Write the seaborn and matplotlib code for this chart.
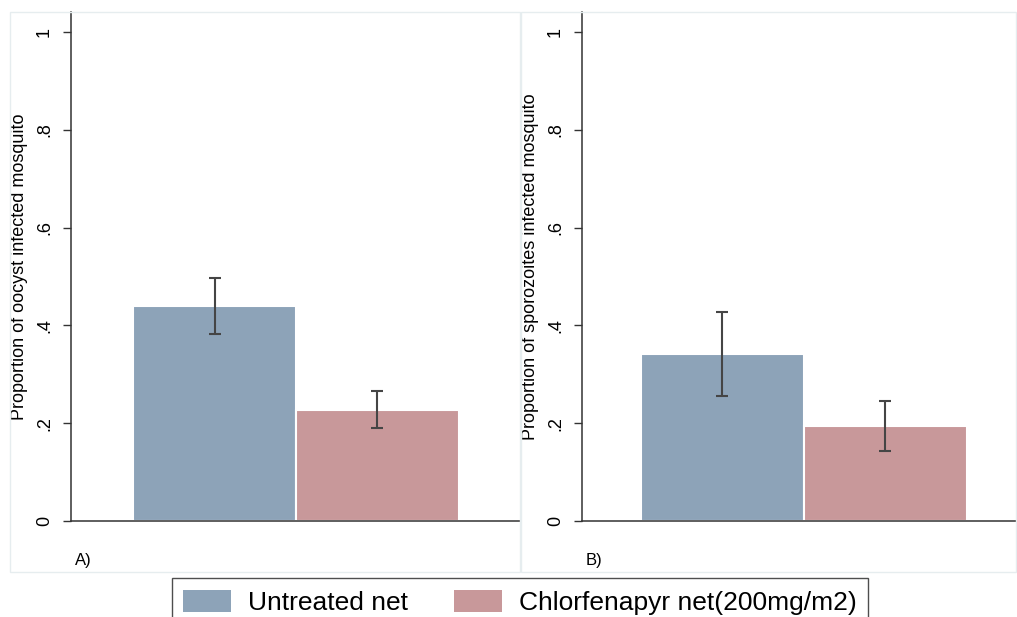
import matplotlib
matplotlib.use("Agg")
import matplotlib.pyplot as plt
import seaborn as sns
import pandas as pd
from matplotlib.patches import Rectangle, Patch

# ---- data ----
nets = ["Untreated net", "Chlorfenapyr net(200mg/m2)"]
oocyst_mean = [0.440, 0.227]
oocyst_low = [0.383, 0.190]
oocyst_high = [0.498, 0.265]
sporo_mean = [0.342, 0.195]
sporo_low = [0.255, 0.143]
sporo_high = [0.427, 0.245]
ytick_vals = [0, 0.2, 0.4, 0.6, 0.8, 1.0]
ytick_labels = ["0", ".2", ".4", ".6", ".8", "1"]
ylabels = ["Proportion of oocyst infected mosquito",
           "Proportion of sporozoites infected mosquito"]
panel_tags = ["A)", "B)"]

colors = ["#8DA3B8", "#C8989A"]

sns.set_theme(style="white")
plt.rcParams['font.family'] = ['Liberation Sans', 'DejaVu Sans']
plt.rcParams['text.color'] = 'black'
plt.rcParams['axes.labelcolor'] = 'black'

W, H = 1017, 617
fig = plt.figure(figsize=(W / 100, H / 100), dpi=100)

def fx(px):
    return px / W

def fy(py):
    return 1 - py / H

# faint panel frames
for (x0, x1) in [(10, 520), (521, 1016)]:
    fig.patches.append(Rectangle((fx(x0), fy(572)), fx(x1 - x0), (572 - 12) / H,
                                 transform=fig.transFigure, fill=False,
                                 edgecolor="#E6EDEF", linewidth=1.0, zorder=0))

axes_px = [(71, 521), (582, 1017)]
datasets = [(oocyst_mean, oocyst_low, oocyst_high),
            (sporo_mean, sporo_low, sporo_high)]
widths = [0.724, 0.75]
xlims = [(-0.5, 0.5), (-0.51, 0.49)]

for i, ((l, r), (m, lo, hi)) in enumerate(zip(axes_px, datasets)):
    ax = fig.add_axes([fx(l), fy(521), fx(r - l), (521 - 12) / H])
    df = pd.DataFrame({"grp": ["g", "g"], "net": nets, "value": m})
    sns.barplot(data=df, x="grp", y="value", hue="net", hue_order=nets,
                palette=colors, saturation=1, width=widths[i], errorbar=None,
                edgecolor="white", linewidth=1.5, legend=False, ax=ax)
    bar_conts = list(ax.containers)
    centers = []
    for cont in bar_conts:
        bar = cont.patches[0]
        centers.append(bar.get_x() + bar.get_width() / 2)
    # error bars
    for j, xc in enumerate(centers):
        ax.errorbar([xc], [m[j]], yerr=[[m[j] - lo[j]], [hi[j] - m[j]]],
                    fmt="none", ecolor="#454545", elinewidth=1.5,
                    capsize=4.5, capthick=1.5, zorder=5)
    ax.set_xlim(*xlims[i])
    ax.set_ylim(0, 1.041)
    ax.set_yticks(ytick_vals)
    ax.set_yticklabels(ytick_labels, rotation=90, va="center", fontsize=13)
    ax.set_xticks([])
    ax.set_xlabel("")
    ax.set_ylabel(ylabels[i], fontsize=13, labelpad=6)
    ax.tick_params(axis="y", which="both", left=True, length=6, width=1,
                   color="#333333", pad=7, labelcolor="black")
    for s in ["top", "right"]:
        ax.spines[s].set_visible(False)
    for s in ["left", "bottom"]:
        ax.spines[s].set_color("#333333")
        ax.spines[s].set_linewidth(1.1)
    ax.patch.set_alpha(0)
    fig.text(fx(l + 4), fy(561), panel_tags[i], fontsize=12, va="center", ha="left")

handles = [Patch(facecolor=c, edgecolor="none") for c in colors]
leg = fig.legend(handles, nets, loc="upper center", bbox_to_anchor=(fx(520), fy(578)),
                 ncol=2, frameon=True, fancybox=False, edgecolor="#222222",
                 fontsize=19, handlelength=1.8, handleheight=0.9,
                 handletextpad=0.65, columnspacing=1.75, borderpad=0.45,
                 borderaxespad=0, labelcolor="black")
leg.get_frame().set_linewidth(1.0)

fig.savefig("out.png", dpi=100)
